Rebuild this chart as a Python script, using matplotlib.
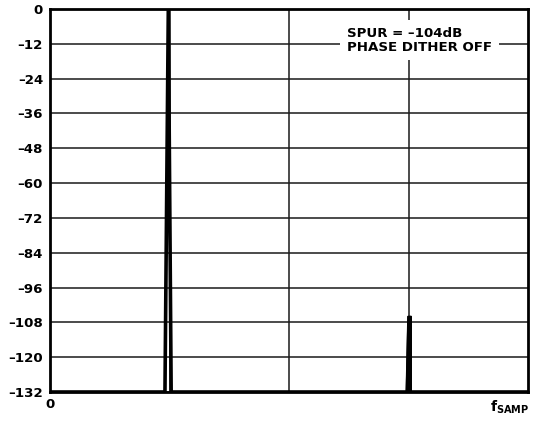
import numpy as np
import matplotlib.pyplot as plt

plt.rcParams['font.family'] = ['DejaVu Sans']
plt.rcParams['font.weight'] = 'bold'
plt.rcParams['mathtext.fontset'] = 'dejavusans'

# spectrum trace (frequency as fraction of fSAMP, level in dB)
tone_freq = [0.0, 0.2405, 0.2475, 0.2535, 1.0]
tone_level = [-132, -132, 0, -132, -132]
spur_freq = [0.7455, 0.7490, 0.7555, 0.7555]
spur_level = [-132, -106, -106, -132]

yticks = [0, -12, -24, -36, -48, -60, -72, -84, -96, -108, -120, -132]
ytick_labels = ['0' if v == 0 else '\u2013' + str(-v) for v in yticks]
xgrid = [0.25, 0.5, 0.75]
note = 'SPUR = \u2013104dB\nPHASE DITHER OFF'

fs = 9.6
fig = plt.figure(figsize=(5.51, 4.21), dpi=100)
ax = fig.add_axes([50 / 551, 1 - 392 / 421, 478 / 551, 383 / 421])

ax.set_xlim(0, 1)
ax.set_ylim(-132, 0)
ax.set_yticks(yticks)
ax.set_yticklabels(ytick_labels, fontsize=fs, fontweight='bold')
ax.set_xticks(xgrid)
ax.set_xticklabels([])
ax.tick_params(length=0, pad=5)
ax.grid(True, color='#1a1a1a', linewidth=1.1)
ax.set_axisbelow(True)
for s in ax.spines.values():
    s.set_linewidth(2)

ax.plot(tone_freq, tone_level, color='black', linewidth=2.6, zorder=3)
ax.plot(spur_freq, spur_level, color='black', linewidth=1.2, zorder=3)
ax.fill(spur_freq, spur_level, color='black', zorder=3)

ax.text(0.621, 0.919, note, transform=ax.transAxes, fontsize=fs,
        fontweight='bold', va='center', ha='left', linespacing=1.1,
        bbox=dict(facecolor='white', edgecolor='none', pad=5), zorder=4)

fig.text(50 / 551, 1 - 405 / 421, '0', fontsize=fs, fontweight='bold',
         ha='center', va='center')
fig.text(529 / 551, 1 - 407 / 421, r'f$_{\mathbf{SAMP}}$', fontsize=fs + 0.5,
         fontweight='bold', ha='right', va='center')

fig.savefig('out.png', dpi=100)
